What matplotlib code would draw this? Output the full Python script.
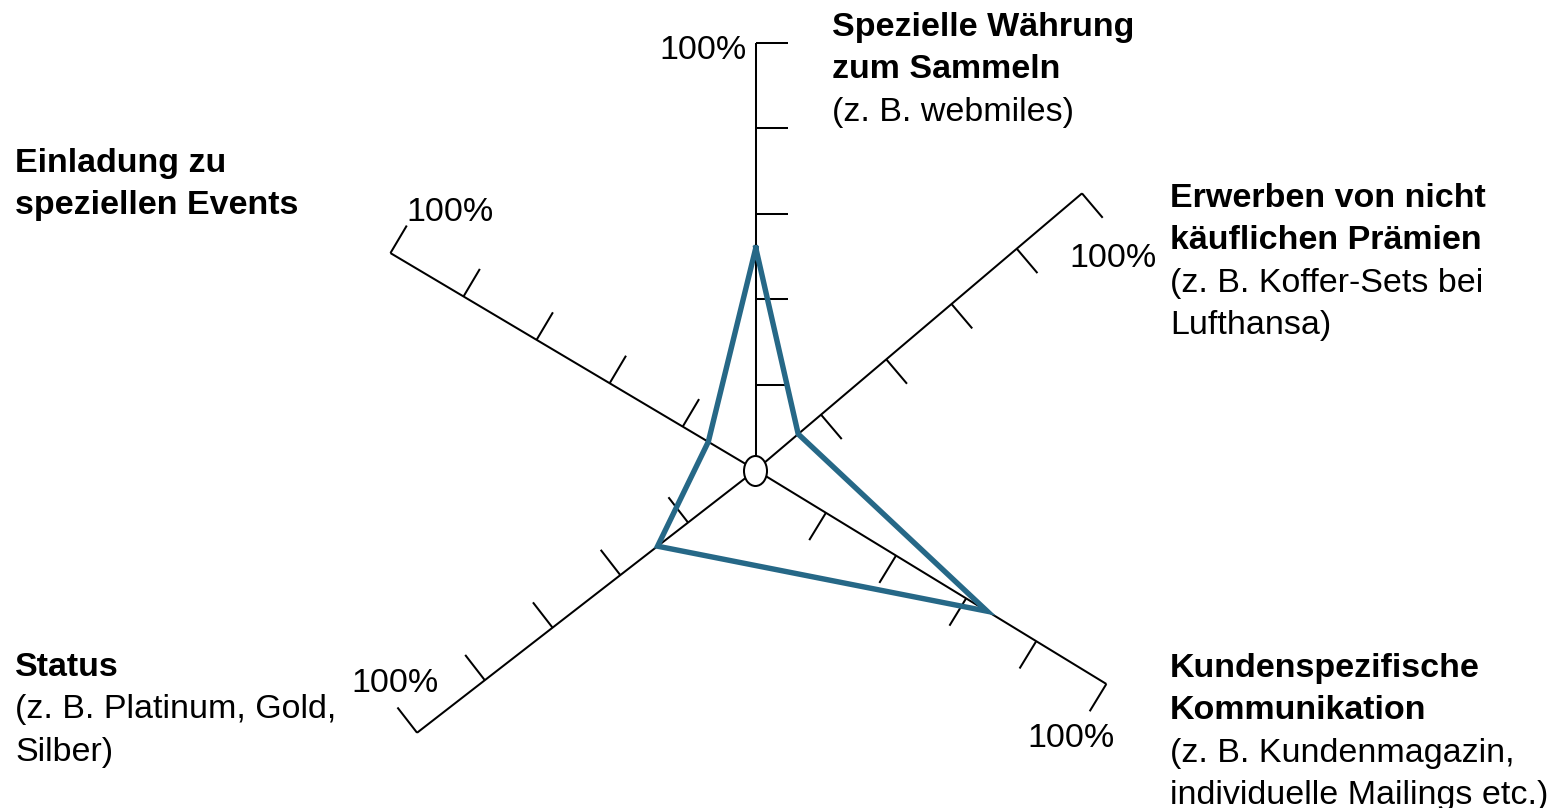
import numpy as np
import matplotlib
matplotlib.use("Agg")
import matplotlib.pyplot as plt
from matplotlib.patches import Ellipse

# ---- data ----
categories = [
    "Spezielle Währung zum Sammeln",
    "Erwerben von nicht käuflichen Prämien",
    "Kundenspezifische Kommunikation",
    "Status",
    "Einladung zu speziellen Events",
]
values = [52, 13, 66, 29, 13]          # percent of axis length
tick_levels = [20, 40, 60, 80, 100]
max_label = "100%"

title_lines = [
    ["Spezielle Währung", "zum Sammeln"],
    ["Erwerben von nicht", "käuflichen Prämien"],
    ["Kundenspezifische", "Kommunikation"],
    ["Status"],
    ["Einladung zu", "speziellen Events"],
]
note_lines = [
    ["(z. B. webmiles)"],
    ["(z. B. Koffer-Sets bei", "Lufthansa)"],
    ["(z. B. Kundenmagazin,", "individuelle Mailings etc.)"],
    ["(z. B. Platinum, Gold,", "Silber)"],
    [],
]

# ---- layout (pixel space) ----
W, H = 1562, 808
center = np.array([755.8, 470.0])
axis_angle = [90.0, 40.3, -31.4, 217.8, 149.3]      # degrees, counter-clockwise
axis_len = [427.0, 427.7, 410.7, 428.7, 424.9]
tick_len = 32.0
label_pos = [(832, 36), (1170, 207), (1170, 677), (15, 676), (15, 172)]
line_step = 42.3
pct_pos = [(659, 59), (1069, 267), (1027, 747), (406, 221), (351, 692)]

FONT = "Liberation Sans"
FS = 24.5
POLY_COLOR = "#266887"

fig = plt.figure(figsize=(W / 100, H / 100), dpi=100)
ax = fig.add_axes([0, 0, 1, 1])
ax.set_xlim(0, W)
ax.set_ylim(H, 0)
ax.axis("off")


def direction(angle):
    a = np.deg2rad(angle)
    return np.array([np.cos(a), -np.sin(a)])


# axes with tick marks (ticks point clockwise-perpendicular)
for ang, length in zip(axis_angle, axis_len):
    d = direction(ang)
    perp = direction(ang - 90)
    end = center + d * length
    ax.plot([center[0], end[0]], [center[1], end[1]], color="black", lw=1.45,
            solid_capstyle="butt", zorder=2)
    for lv in tick_levels:
        p = center + d * length * lv / 100
        q = p + perp * tick_len
        ax.plot([p[0], q[0]], [p[1], q[1]], color="black", lw=1.45,
                solid_capstyle="butt", zorder=2)

# value polygon
pts = np.array([center + direction(a) * l * v / 100
                for a, l, v in zip(axis_angle, axis_len, values)])
closed = np.vstack([pts, pts[:1]])
ax.plot(closed[:, 0], closed[:, 1], color=POLY_COLOR, lw=3.9,
        solid_joinstyle="miter", zorder=3)

# centre hub
ax.add_patch(Ellipse((755.5, 471), 23, 30, facecolor="white",
                     edgecolor="black", lw=1.45, zorder=4))

# axis titles
for (x, y), bold, note in zip(label_pos, title_lines, note_lines):
    for i, line in enumerate(bold + note):
        ax.text(x, y + i * line_step, line, family=FONT, fontsize=FS,
                fontweight="bold" if i < len(bold) else "normal",
                ha="left", va="baseline", color="black")

# 100% markers
for x, y in pct_pos:
    ax.text(x, y, max_label, family=FONT, fontsize=FS, ha="left",
            va="baseline", color="black")

fig.savefig("out.png", dpi=100, facecolor="white")
